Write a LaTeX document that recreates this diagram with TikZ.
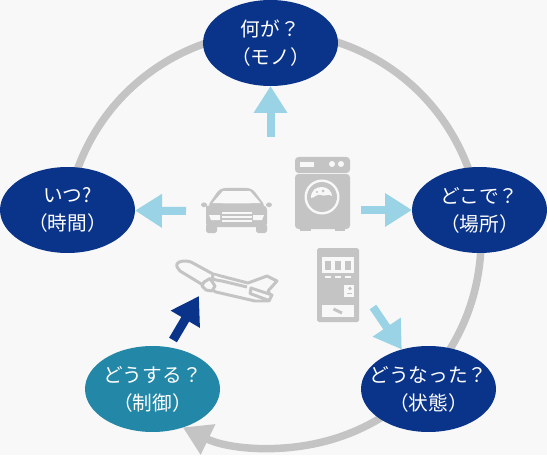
\documentclass[tikz,border=0pt]{standalone}
\usepackage{fontspec}
\usepackage{xcolor}
\usetikzlibrary{arrows.meta,shapes.geometric}
\newfontfamily\jpfont{Noto Sans CJK JP}
\definecolor{fondo}{HTML}{F8F8F8}
\definecolor{navy}{HTML}{0A338A}
\definecolor{teal}{HTML}{2387A8}
\definecolor{sky}{HTML}{9AD3E5}
\definecolor{icongray}{HTML}{C4C4C4}
\tikzset{
    bubble/.style={ellipse, fill=navy, text=white, minimum width=2.7cm, minimum height=1.72cm,
        inner xsep=-8pt, inner ysep=0pt, outer sep=0pt, align=center,
        font=\jpfont\fontsize{11.2pt}{16pt}\selectfont},
    flowarrow/.style={line width=0.16cm, color=sky,
        -{Triangle[length=0.54cm,width=0.64cm]}},
    controlarrow/.style={flowarrow, color=navy, line width=0.18cm},
    ringline/.style={line width=0.15cm, color=icongray,
        -{Triangle[length=0.56cm,width=0.64cm]}},
    planeline/.style={line width=1.7pt, color=icongray, fill=fondo, line join=round}
}
\begin{document}
\begin{tikzpicture}[x=0.02cm, y=-0.02cm, line cap=butt, line join=round]

% === FONDO ===
\fill[fondo] (0,0) rectangle (547,455);

% === ANILLO GRIS ===
\coordinate (ringc) at (273,240);
\draw[ringline] ([shift={(165:4.16cm)}]ringc) arc[start angle=165, end angle=-115.7, radius=4.16cm];

% === ELIPSES ===
\node[bubble] (mono) at (270.5,43) {何が？\\（モノ）};
\node[bubble] (time) at (67.5,210) {いつ?\\（時間）};
\node[bubble] (place) at (479.5,210) {どこで？\\（場所）};
\node[bubble] (state) at (428.5,389) {どうなった？\\（状態）};
\node[bubble, fill=teal] (control) at (152.5,389) {どうする？\\（制御）};

% === FLECHAS ===
\coordinate (monofoot) at (270.5,137);
\coordinate (timefoot) at (186,211);
\coordinate (placefoot) at (361,210);
\coordinate (statefoot) at (373,307);
\coordinate (controlfoot) at (173,340);
\coordinate (planefoot) at (199,296);
\draw[flowarrow] (monofoot) -- (mono);
\draw[flowarrow] (timefoot) -- (time);
\draw[flowarrow] (placefoot) -- (place);
\draw[flowarrow] (statefoot) -- (state);
\draw[controlarrow] (controlfoot) -- (planefoot);

% === LAVADORA ===
\fill[icongray, rounded corners=2pt] (295,173) -- (295,157) -- (350,157) -- (350,173) -- cycle;
\fill[icongray, rounded corners=2pt] (295,174) -- (295,229) -- (350,229) -- (350,174) -- cycle;
\fill[icongray] (300,228) rectangle (311,231);
\fill[icongray] (335,228) rectangle (345,231);
\fill[fondo] (300,162) rectangle (314,167);
\fill[fondo] (332,164) circle (3);
\fill[fondo] (341,164) circle (3);
\fill[fondo] (322,197) circle (17.5);
\fill[icongray] (322,197) circle (15);
\fill[fondo] (311,198) .. controls (311,190) and (316,187) .. (322,187)
    .. controls (328,187) and (332,192) .. (332,196)
    .. controls (328,193) and (325,197) .. (321,195)
    .. controls (317,193) and (315,198) .. (311,198);
\fill[icongray] (317,192) circle (1.2);
\fill[icongray] (323,191) circle (1.5);

% === COCHE ===
\fill[icongray, rounded corners=3pt] (207,207) -- (220,188) -- (252,188) -- (266,207) -- cycle;
\fill[fondo] (212.5,203) -- (223,191) -- (250,191) -- (260.5,203)
    .. controls (245,203.5) and (228,203.5) .. (212.5,203);
\fill[icongray, rounded corners=2pt] (206,206) -- (206,227) -- (267,227) -- (267,206)
    .. controls (250,203.5) and (223,203.5) .. (206,206);
\fill[icongray, rounded corners=1pt] (201,202.5) rectangle (207,207);
\fill[icongray, rounded corners=1pt] (266,202.5) rectangle (272,207);
\fill[icongray, rounded corners=1pt] (206,224) rectangle (217,233);
\fill[icongray, rounded corners=1pt] (256,224) rectangle (267,233);
\fill[fondo] (209,215) -- (220,215) -- (220,220) -- (211,220) -- cycle;
\fill[fondo] (253,215) -- (264,215) -- (262,220) -- (253,220) -- cycle;
\foreach \y in {213,217,221}{
    \draw[fondo, line width=0.6pt] (222,\y) -- (252,\y);
}

% === MAQUINA EXPENDEDORA ===
\fill[icongray, rounded corners=1pt] (317,248) rectangle (359,322);
\fill[fondo] (322,257) rectangle (354,273);
\foreach \x in {325,335,345}{
    \fill[icongray] (\x,261) rectangle (\x+6,270);
    \fill[fondo] (\x,276) rectangle (\x+6,278);
}
\fill[fondo] (344,285) rectangle (354,297);
\fill[icongray] (350,288.5) circle (1.8);
\fill[icongray] (347,292.5) rectangle (352,294);
\fill[fondo] (322,305) rectangle (354,317);
\draw[icongray, line width=1.7pt] (333.5,309) -- (342,313);

% === AVION ===
\draw[planeline] (177,264) .. controls (178,261) and (186,260) .. (191,262)
    -- (213,274) -- (248,283) -- (267,276) -- (277,281) -- (268,291)
    -- (271,296) -- (269,301) -- (255,301) -- (216,292)
    -- (203,285) -- (180,271) .. controls (178,269) and (176,266) .. (177,264) -- cycle;
\draw[planeline] (213,275) .. controls (210,280) and (216,280) .. (222,281) -- (247,287);
\draw[planeline] (251,288) -- (272,295) -- (269,300.5) -- (250,293.5) -- cycle;
\draw[planeline] (204,282) -- (210,278.5) -- (215,286) -- (212,291) -- (206,290) -- (202,286) -- cycle;

\end{tikzpicture}
\end{document}
